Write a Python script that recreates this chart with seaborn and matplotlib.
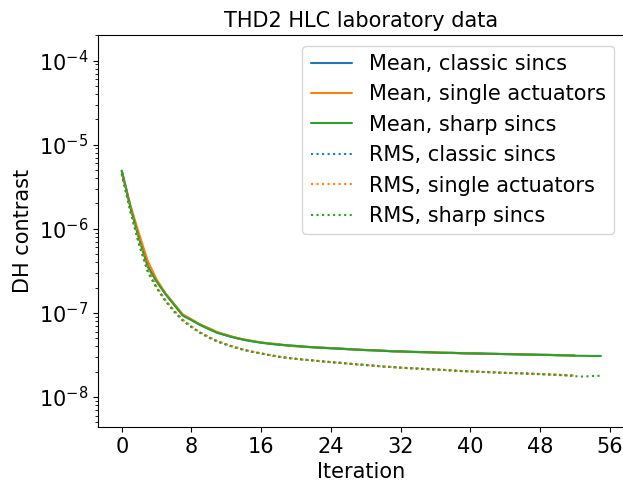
import matplotlib
matplotlib.use("Agg")
import matplotlib.pyplot as plt
import seaborn as sns
import numpy as np
import pandas as pd

# ---- data ----
iter_short = list(range(0, 53))
iter_long = list(range(0, 56))

mean_classic = [4.9e-6, 1.8e-6, 7.7e-7, 3.6e-7, 2.4e-7, 1.7e-7, 1.27e-7, 9.4e-8, 8.3e-8, 7.2e-8,
                6.5e-8, 5.8e-8, 5.4e-8, 5.1e-8, 4.8e-8, 4.6e-8, 4.45e-8, 4.3e-8, 4.2e-8, 4.1e-8,
                4.05e-8, 3.95e-8, 3.9e-8, 3.85e-8, 3.8e-8, 3.78e-8, 3.72e-8, 3.66e-8, 3.62e-8, 3.6e-8,
                3.56e-8, 3.5e-8, 3.48e-8, 3.45e-8, 3.44e-8, 3.4e-8, 3.38e-8, 3.36e-8, 3.35e-8, 3.32e-8,
                3.3e-8, 3.3e-8, 3.27e-8, 3.26e-8, 3.25e-8, 3.22e-8, 3.22e-8, 3.2e-8, 3.18e-8, 3.17e-8,
                3.15e-8, 3.14e-8, 3.12e-8]
mean_single = [4.8e-6, 1.9e-6, 8.6e-7, 4.1e-7, 2.5e-7, 1.72e-7, 1.28e-7, 9.6e-8, 8.4e-8, 7.3e-8,
               6.6e-8, 5.9e-8, 5.5e-8, 5.1e-8, 4.85e-8, 4.65e-8, 4.45e-8, 4.35e-8, 4.25e-8, 4.1e-8,
               4.0e-8, 3.95e-8, 3.92e-8, 3.88e-8, 3.82e-8, 3.76e-8, 3.7e-8, 3.68e-8, 3.63e-8, 3.58e-8,
               3.55e-8, 3.52e-8, 3.47e-8, 3.46e-8, 3.42e-8, 3.4e-8, 3.37e-8, 3.37e-8, 3.33e-8, 3.31e-8,
               3.32e-8, 3.28e-8, 3.25e-8, 3.27e-8, 3.23e-8, 3.24e-8, 3.2e-8, 3.21e-8, 3.16e-8, 3.18e-8,
               3.14e-8, 3.15e-8, 3.11e-8]
mean_sharp = [4.9e-6, 1.8e-6, 7.5e-7, 3.5e-7, 2.35e-7, 1.68e-7, 1.25e-7, 9.3e-8, 8.2e-8, 7.2e-8,
              6.4e-8, 5.8e-8, 5.4e-8, 5.05e-8, 4.8e-8, 4.6e-8, 4.42e-8, 4.3e-8, 4.2e-8, 4.12e-8,
              4.05e-8, 3.98e-8, 3.9e-8, 3.84e-8, 3.8e-8, 3.75e-8, 3.7e-8, 3.66e-8, 3.61e-8, 3.58e-8,
              3.54e-8, 3.5e-8, 3.49e-8, 3.45e-8, 3.42e-8, 3.42e-8, 3.38e-8, 3.35e-8, 3.36e-8, 3.32e-8,
              3.3e-8, 3.29e-8, 3.28e-8, 3.25e-8, 3.24e-8, 3.23e-8, 3.2e-8, 3.19e-8, 3.18e-8, 3.16e-8,
              3.14e-8, 3.12e-8, 3.1e-8, 3.09e-8, 3.08e-8, 3.08e-8]

rms_classic = [4.5e-6, 1.6e-6, 6.5e-7, 3.1e-7, 2.0e-7, 1.4e-7, 1.05e-7, 8.2e-8, 6.8e-8, 5.8e-8,
               5.1e-8, 4.6e-8, 4.2e-8, 3.9e-8, 3.65e-8, 3.45e-8, 3.3e-8, 3.15e-8, 3.02e-8, 2.92e-8,
               2.85e-8, 2.78e-8, 2.72e-8, 2.66e-8, 2.6e-8, 2.56e-8, 2.5e-8, 2.45e-8, 2.4e-8, 2.36e-8,
               2.3e-8, 2.27e-8, 2.24e-8, 2.2e-8, 2.18e-8, 2.15e-8, 2.12e-8, 2.1e-8, 2.07e-8, 2.04e-8,
               2.02e-8, 2.0e-8, 1.98e-8, 1.96e-8, 1.94e-8, 1.92e-8, 1.92e-8, 1.9e-8, 1.88e-8, 1.86e-8,
               1.84e-8, 1.82e-8, 1.8e-8]
rms_single = [4.4e-6, 1.7e-6, 7.2e-7, 3.3e-7, 2.05e-7, 1.42e-7, 1.07e-7, 8.3e-8, 6.9e-8, 5.9e-8,
              5.2e-8, 4.6e-8, 4.25e-8, 3.92e-8, 3.66e-8, 3.47e-8, 3.3e-8, 3.16e-8, 3.03e-8, 2.93e-8,
              2.84e-8, 2.77e-8, 2.72e-8, 2.65e-8, 2.6e-8, 2.55e-8, 2.5e-8, 2.44e-8, 2.41e-8, 2.35e-8,
              2.3e-8, 2.28e-8, 2.23e-8, 2.2e-8, 2.19e-8, 2.14e-8, 2.13e-8, 2.09e-8, 2.08e-8, 2.03e-8,
              2.02e-8, 2.01e-8, 1.97e-8, 1.97e-8, 1.93e-8, 1.93e-8, 1.91e-8, 1.89e-8, 1.88e-8, 1.85e-8,
              1.84e-8, 1.81e-8, 1.8e-8]
rms_sharp = [4.5e-6, 1.6e-6, 6.4e-7, 3.05e-7, 1.98e-7, 1.39e-7, 1.04e-7, 8.1e-8, 6.8e-8, 5.8e-8,
             5.1e-8, 4.55e-8, 4.2e-8, 3.88e-8, 3.64e-8, 3.44e-8, 3.29e-8, 3.14e-8, 3.01e-8, 2.92e-8,
             2.84e-8, 2.78e-8, 2.71e-8, 2.66e-8, 2.6e-8, 2.55e-8, 2.49e-8, 2.45e-8, 2.4e-8, 2.36e-8,
             2.31e-8, 2.27e-8, 2.23e-8, 2.21e-8, 2.17e-8, 2.15e-8, 2.13e-8, 2.1e-8, 2.06e-8, 2.04e-8,
             2.02e-8, 1.99e-8, 1.98e-8, 1.95e-8, 1.94e-8, 1.93e-8, 1.9e-8, 1.88e-8, 1.87e-8, 1.85e-8,
             1.83e-8, 1.81e-8, 1.77e-8, 1.75e-8, 1.78e-8, 1.79e-8]

labels = ["Mean, classic sincs", "Mean, single actuators", "Mean, sharp sincs",
          "RMS, classic sincs", "RMS, single actuators", "RMS, sharp sincs"]
colors = ["#1f77b4", "#ff7f0e", "#2ca02c"]
xticks = [0, 8, 16, 24, 32, 40, 48, 56]

title = "THD2 HLC laboratory data"
xlabel = "Iteration"
ylabel = "DH contrast"

# ---- figure ----
sns.set_style("ticks")
plt.rcParams['font.family'] = ['DejaVu Sans']
for k in ['axes.edgecolor', 'xtick.color', 'ytick.color', 'text.color', 'axes.labelcolor']:
    plt.rcParams[k] = 'black'

fig = plt.figure(figsize=(6.23, 4.82), dpi=100)
ax = fig.add_axes([0.157, 0.114, 0.846, 0.813])

series = [
    (iter_short, mean_classic, labels[0], colors[0], '-'),
    (iter_short, mean_single, labels[1], colors[1], '-'),
    (iter_long, mean_sharp, labels[2], colors[2], '-'),
    (iter_short, rms_classic, labels[3], colors[0], ':'),
    (iter_short, rms_single, labels[4], colors[1], ':'),
    (iter_long, rms_sharp, labels[5], colors[2], ':'),
]
for xs, ys, lab, col, ls in series:
    df = pd.DataFrame({"x": xs, "y": ys})
    sns.lineplot(data=df, x="x", y="y", ax=ax, color=col, linestyle=ls,
                 label=lab, linewidth=1.5)

ax.set_yscale("log")
ax.set_ylim(4.4e-9, 2e-4)
ax.set_xlim(-2.75, 57.75)
ax.set_xticks(xticks)
ax.tick_params(axis='both', which='major', labelsize=15, direction='out', length=3.5, width=0.8)
ax.tick_params(axis='y', which='minor', direction='out', length=2, width=0.6)
ax.set_title(title, fontsize=15)
ax.set_xlabel(xlabel, fontsize=15)
ax.set_ylabel(ylabel, fontsize=15)
for s in ax.spines.values():
    s.set_visible(True)
    s.set_linewidth(0.8)

ax.legend(loc="upper right", fontsize=15, frameon=True)

fig.savefig("out.png", dpi=100)
